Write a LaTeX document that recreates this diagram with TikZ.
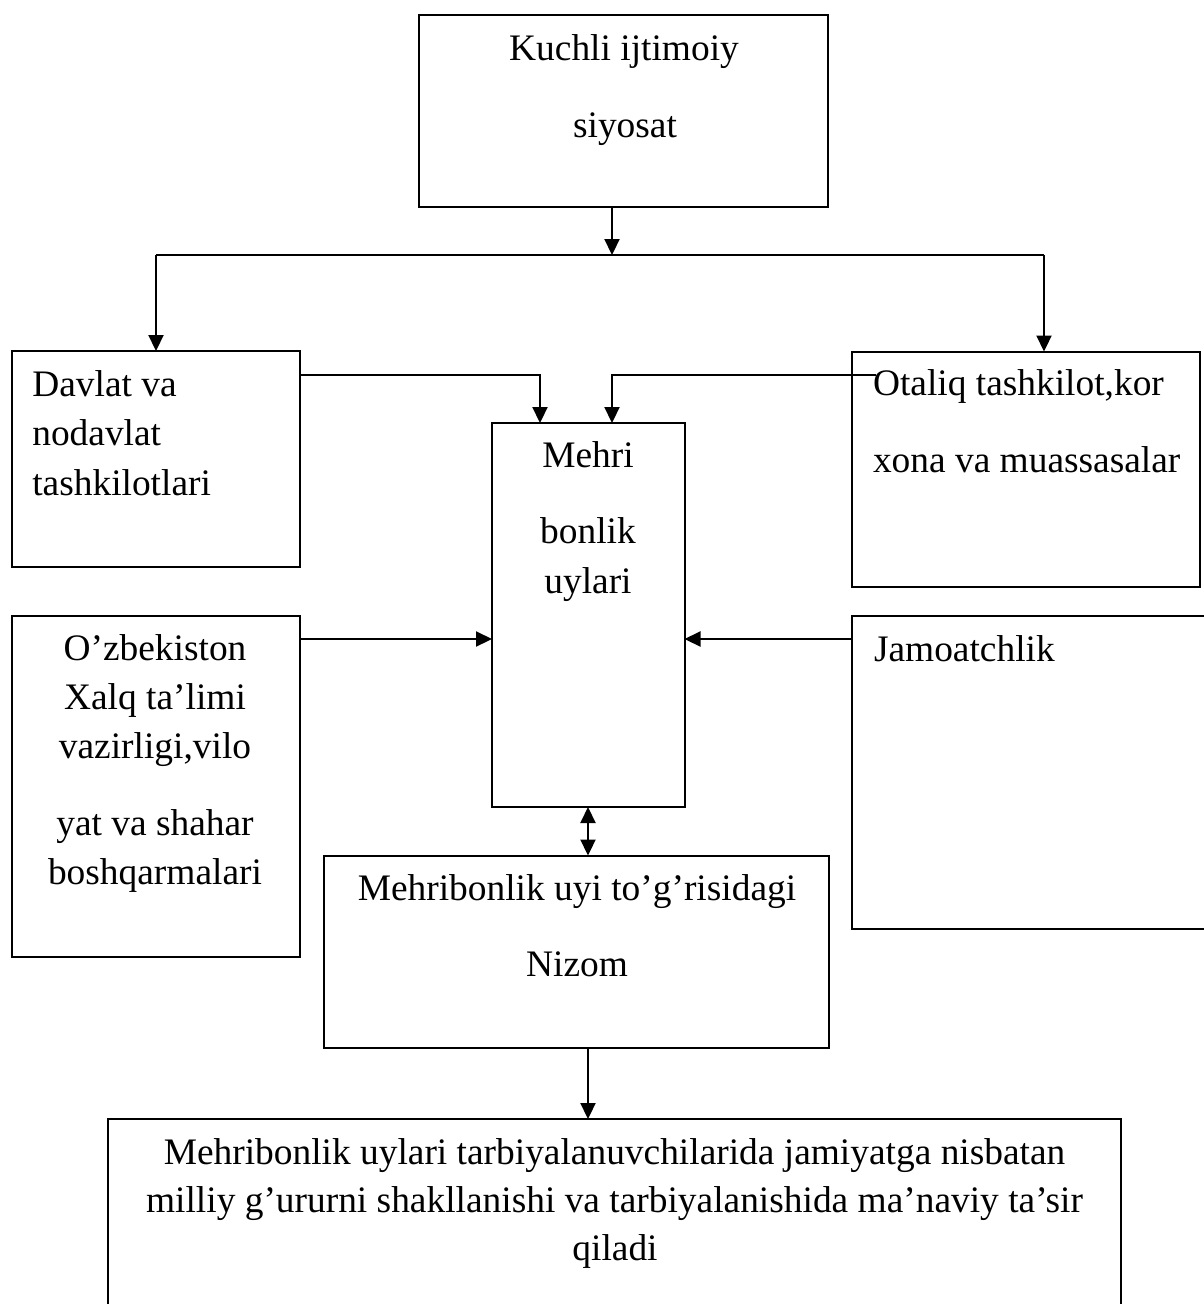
\documentclass[tikz,border=0pt]{standalone}
\usepackage{fontspec}
\setmainfont{Liberation Serif}
\usetikzlibrary{arrows.meta}
\tikzset{
  box/.style={draw, line width=2pt, inner sep=0pt, outer sep=0pt},
  arr/.style={line width=2.2pt, -{Triangle[length=16pt,width=15pt]}},
  arrtwo/.style={line width=2.2pt, {Triangle[length=16pt,width=15pt]}-{Triangle[length=16pt,width=15pt]}},
  lbl/.style={inner sep=0pt, outer sep=0pt, anchor=base},
  lblw/.style={inner sep=0pt, outer sep=0pt, anchor=base west},
}
\begin{document}
\begin{tikzpicture}[x=1pt,y=-1pt, font=\fontsize{37.4pt}{44pt}\selectfont]
\useasboundingbox (0,0) rectangle (1204,1304);
\clip (0,0) rectangle (1204,1304);
% boxes
\node[box, minimum width=409pt, minimum height=192pt] (top) at (623.5,111) {};
\node[box, minimum width=288.5pt, minimum height=216pt] (davlat) at (155.75,459) {};
\node[box, minimum width=347.5pt, minimum height=235.5pt] (otaliq) at (1025.75,469.25) {};
\node[box, minimum width=192.5pt, minimum height=384pt] (mehri) at (588.25,615) {};
\node[box, minimum width=288.5pt, minimum height=341.5pt] (ozb) at (155.75,786.25) {};
\node[box, minimum width=363pt, minimum height=313.5pt] (jamo) at (1033.5,772.25) {};
\node[box, minimum width=505pt, minimum height=192pt] (nizom) at (576.5,951.5) {};
\node[box, minimum width=1013pt, minimum height=201pt] (bottom) at (614.5,1219.5) {};
% texts
\node[lbl] (ta) at (624,60.7) {Kuchli ijtimoiy};
\node[lbl] (tb) at (625,137) {siyosat};
\node[lblw] (da) at (32.3,396) {Davlat va};
\node[lblw] (db) at (32.3,445.7) {nodavlat};
\node[lblw] (dc) at (32.3,495.7) {tashkilotlari};
\node[lblw] (oa) at (873,395.7) {Otaliq tashkilot,kor};
\node[lblw] (ob) at (873,472.7) {xona va muassasalar};
\node[lbl] (ma) at (588,467.7) {Mehri};
\node[lbl] (mb) at (588,543) {bonlik};
\node[lbl] (mc) at (588,593) {uylari};
\node[lbl] (za) at (155,660) {O’zbekiston};
\node[lbl] (zb) at (155,709) {Xalq ta’limi};
\node[lbl] (zc) at (155,758) {vazirligi,vilo};
\node[lbl] (zd) at (155,835) {yat va shahar};
\node[lbl] (ze) at (155,884) {boshqarmalari};
\node[lblw] (ja) at (874,661) {Jamoatchlik};
\node[lbl] (na) at (577,900) {Mehribonlik uyi to’g’risidagi};
\node[lbl] (nb) at (577,976) {Nizom};
\node[lbl] (ba) at (614.5,1164) {Mehribonlik uylari tarbiyalanuvchilarida jamiyatga nisbatan};
\node[lbl] (bb) at (614.5,1212.7) {milliy g’ururni shakllanishi va tarbiyalanishida ma’naviy ta’sir};
\node[lbl] (bc) at (615,1260) {qiladi};
% connector coordinates
\coordinate (j) at (612,255);
\coordinate (jl) at (156,255);
\coordinate (jr) at (1044,255);
\coordinate (d1) at (540,375);
\coordinate (o0) at (876,375);
\coordinate (o1) at (612,375);
\coordinate (m1) at (0,639);
\coordinate (n1) at (588,0);
% connectors
\draw[arr] (top.south -| j) -- (j);
\draw[line width=2.2pt] (jl) -- (jr);
\draw[arr] (jl) -- (jl |- davlat.north);
\draw[arr] (jr) -- (jr |- otaliq.north);
\draw[arr] (davlat.east |- d1) -- (d1) -- (d1 |- mehri.north);
\draw[arr] (o0) -- (o1) -- (o1 |- mehri.north);
\draw[arr] (ozb.east |- m1) -- (mehri.west |- m1);
\draw[arr] (jamo.west |- m1) -- (mehri.east |- m1);
\draw[arrtwo] (mehri.south -| n1) -- (nizom.north -| n1);
\draw[arr] (nizom.south -| n1) -- (bottom.north -| n1);
\end{tikzpicture}
\end{document}
